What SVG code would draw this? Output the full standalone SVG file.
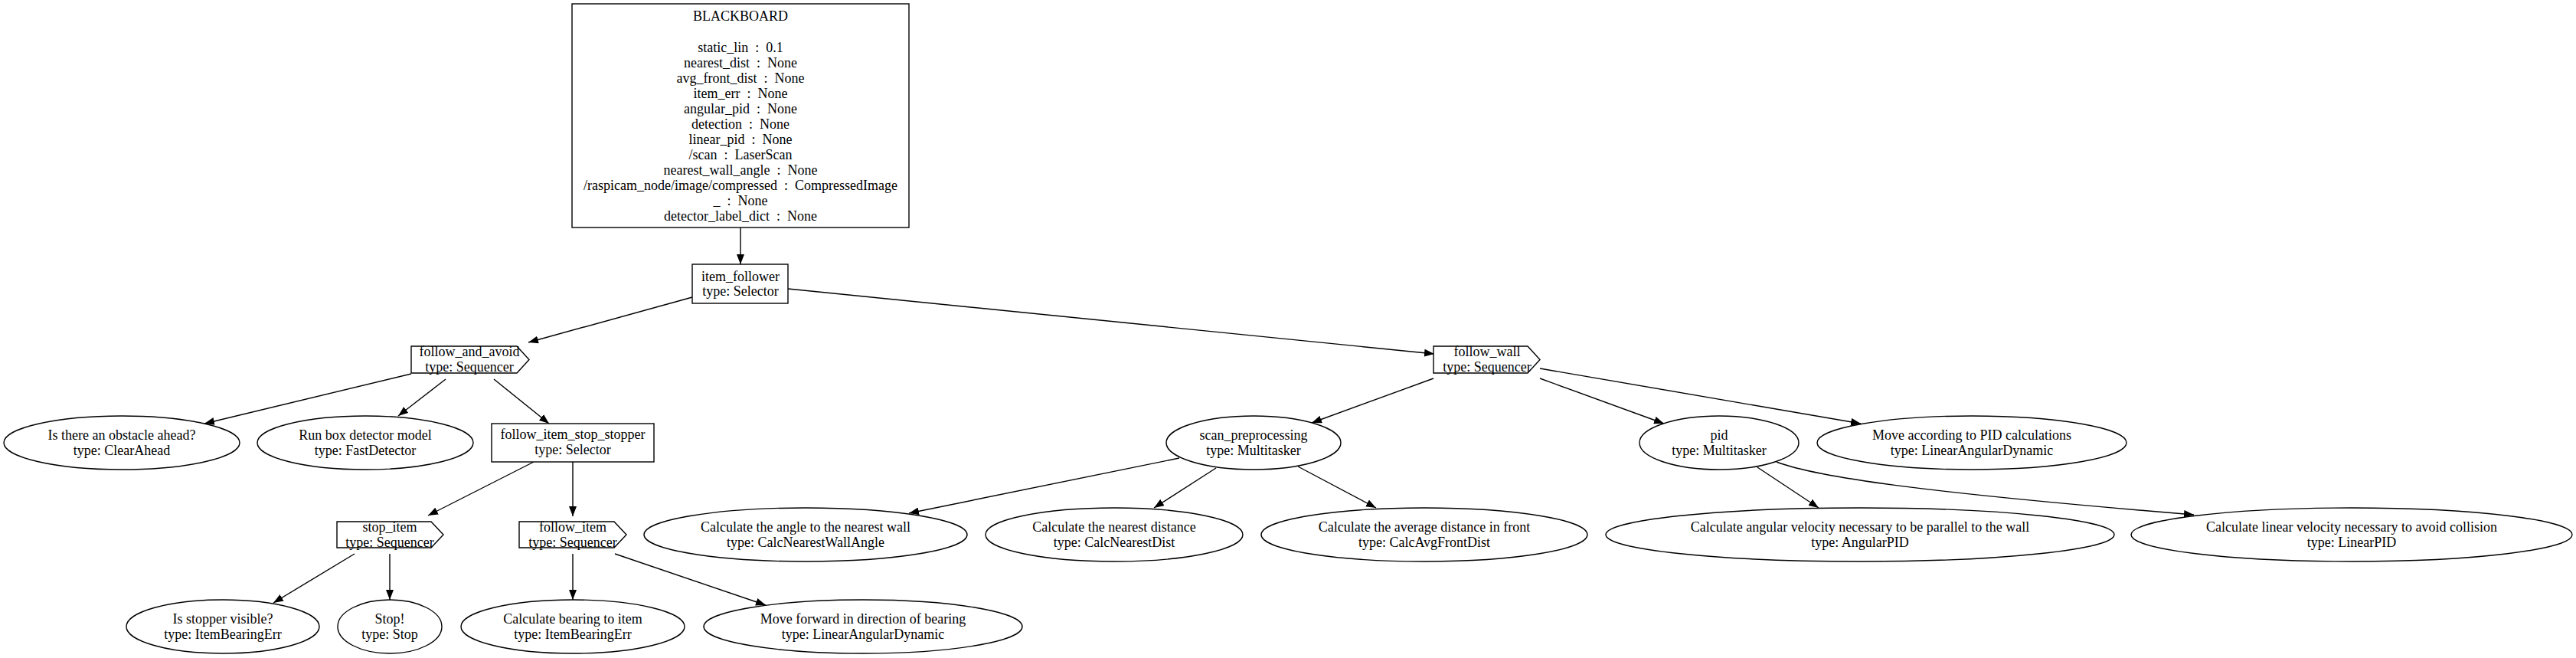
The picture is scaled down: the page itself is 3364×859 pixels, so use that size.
<svg xmlns="http://www.w3.org/2000/svg" width="3364" height="859" viewBox="0 0 3364 859">
<style>
text{font-family:"Liberation Serif","Times New Roman",serif;font-size:18px;fill:#000;text-anchor:middle;white-space:pre}
.n{fill:#fff;stroke:#000;stroke-width:1.4}
.e{fill:none;stroke:#000;stroke-width:1.4;marker-end:url(#ah)}
</style>
<defs>
<marker id="ah" markerUnits="userSpaceOnUse" viewBox="0 0 13 10" refX="13" refY="5" markerWidth="13" markerHeight="10" orient="auto">
<path d="M0,0 L13,5 L0,10 z" fill="#000"/>
</marker>
</defs>
<rect x="0" y="0" width="3364" height="859" fill="#fff"/>
<g id="connectors">
<path class="e" d="M967,297 L967,345"/>
<path class="e" d="M904,388 L690,447"/>
<path class="e" d="M1029,377 L1873,462"/>
<path class="e" d="M537,488 L267,553"/>
<path class="e" d="M582,495 L520,543"/>
<path class="e" d="M645,495 L717,553"/>
<path class="e" d="M697,603 L559,673"/>
<path class="e" d="M748,603 L748,674"/>
<path class="e" d="M463,723 L357,787"/>
<path class="e" d="M509,723 L509,783"/>
<path class="e" d="M748,723 L748,783"/>
<path class="e" d="M803,723 L1000,790"/>
<path class="e" d="M1872,494 L1713,552"/>
<path class="e" d="M2011,494 L2173,553"/>
<path class="e" d="M2011,481 L2430,553"/>
<path class="e" d="M1540,598 L1187,670"/>
<path class="e" d="M1588,611 L1507,663"/>
<path class="e" d="M1695,609 L1797,663"/>
<path class="e" d="M2295,610 L2375,663"/>
<path class="e" d="M2320,603 C2370,622 2500,642 2865,672"/>
</g>
<g id="blackboard">
<rect class="n" x="747" y="5" width="440" height="292"/>
<text x="967" y="27">BLACKBOARD</text>
<text x="967" y="68">static_lin  :  0.1</text>
<text x="967" y="88">nearest_dist  :  None</text>
<text x="967" y="108">avg_front_dist  :  None</text>
<text x="967" y="128">item_err  :  None</text>
<text x="967" y="148">angular_pid  :  None</text>
<text x="967" y="168">detection  :  None</text>
<text x="967" y="188">linear_pid  :  None</text>
<text x="967" y="208">/scan  :  LaserScan</text>
<text x="967" y="228">nearest_wall_angle  :  None</text>
<text x="967" y="248">/raspicam_node/image/compressed  :  CompressedImage</text>
<text x="967" y="268">_  :  None</text>
<text x="967" y="288">detector_label_dict  :  None</text>
</g>
<g id="item_follower">
<rect class="n" x="904" y="345" width="125" height="51"/>
<text x="967" y="367">item_follower</text>
<text x="967" y="386">type: Selector</text>
</g>
<g id="follow_and_avoid">
<polygon class="n" points="537,452 675,452 691,469.5 675,487 537,487"/>
<text x="613" y="465">follow_and_avoid</text>
<text x="613" y="485">type: Sequencer</text>
</g>
<g id="follow_wall">
<polygon class="n" points="1872,452 1995,452 2011,469.5 1995,487 1872,487"/>
<text x="1942" y="465">follow_wall</text>
<text x="1942" y="485">type: Sequencer</text>
</g>
<g id="clear_ahead">
<ellipse class="n" cx="159" cy="578" rx="154" ry="35"/>
<text x="159" y="574">Is there an obstacle ahead?</text>
<text x="159" y="594">type: ClearAhead</text>
</g>
<g id="fast_detector">
<ellipse class="n" cx="477" cy="578" rx="141" ry="35"/>
<text x="477" y="574">Run box detector model</text>
<text x="477" y="594">type: FastDetector</text>
</g>
<g id="follow_item_stop_stopper">
<rect class="n" x="642" y="553" width="212" height="50"/>
<text x="748" y="573">follow_item_stop_stopper</text>
<text x="748" y="593">type: Selector</text>
</g>
<g id="stop_item">
<polygon class="n" points="440,681 563,681 579,698 563,715 440,715"/>
<text x="509" y="694">stop_item</text>
<text x="509" y="714">type: Sequencer</text>
</g>
<g id="follow_item">
<polygon class="n" points="678,681 802,681 818,698 802,715 678,715"/>
<text x="748" y="694">follow_item</text>
<text x="748" y="714">type: Sequencer</text>
</g>
<g id="stopper_visible">
<ellipse class="n" cx="291" cy="818" rx="126" ry="35"/>
<text x="291" y="814">Is stopper visible?</text>
<text x="291" y="834">type: ItemBearingErr</text>
</g>
<g id="stop">
<ellipse class="n" cx="509" cy="818" rx="68" ry="35"/>
<text x="509" y="814">Stop!</text>
<text x="509" y="834">type: Stop</text>
</g>
<g id="bearing">
<ellipse class="n" cx="748" cy="818" rx="146" ry="35"/>
<text x="748" y="814">Calculate bearing to item</text>
<text x="748" y="834">type: ItemBearingErr</text>
</g>
<g id="move_forward">
<ellipse class="n" cx="1127" cy="818" rx="208" ry="35"/>
<text x="1127" y="814">Move forward in direction of bearing</text>
<text x="1127" y="834">type: LinearAngularDynamic</text>
</g>
<g id="scan_preprocessing">
<ellipse class="n" cx="1637" cy="578" rx="114" ry="35"/>
<text x="1637" y="574">scan_preprocessing</text>
<text x="1637" y="594">type: Multitasker</text>
</g>
<g id="pid">
<ellipse class="n" cx="2245" cy="578" rx="104" ry="35"/>
<text x="2245" y="574">pid</text>
<text x="2245" y="594">type: Multitasker</text>
</g>
<g id="move_pid">
<ellipse class="n" cx="2575" cy="578" rx="202" ry="35"/>
<text x="2575" y="574">Move according to PID calculations</text>
<text x="2575" y="594">type: LinearAngularDynamic</text>
</g>
<g id="wall_angle">
<ellipse class="n" cx="1052" cy="698" rx="211" ry="35"/>
<text x="1052" y="694">Calculate the angle to the nearest wall</text>
<text x="1052" y="714">type: CalcNearestWallAngle</text>
</g>
<g id="nearest_dist">
<ellipse class="n" cx="1455" cy="698" rx="168" ry="35"/>
<text x="1455" y="694">Calculate the nearest distance</text>
<text x="1455" y="714">type: CalcNearestDist</text>
</g>
<g id="avg_front">
<ellipse class="n" cx="1860" cy="698" rx="213" ry="35"/>
<text x="1860" y="694">Calculate the average distance in front</text>
<text x="1860" y="714">type: CalcAvgFrontDist</text>
</g>
<g id="angular_pid">
<ellipse class="n" cx="2429" cy="698" rx="332" ry="35"/>
<text x="2429" y="694">Calculate angular velocity necessary to be parallel to the wall</text>
<text x="2429" y="714">type: AngularPID</text>
</g>
<g id="linear_pid">
<ellipse class="n" cx="3071" cy="698" rx="288" ry="35"/>
<text x="3071" y="694">Calculate linear velocity necessary to avoid collision</text>
<text x="3071" y="714">type: LinearPID</text>
</g>
</svg>
